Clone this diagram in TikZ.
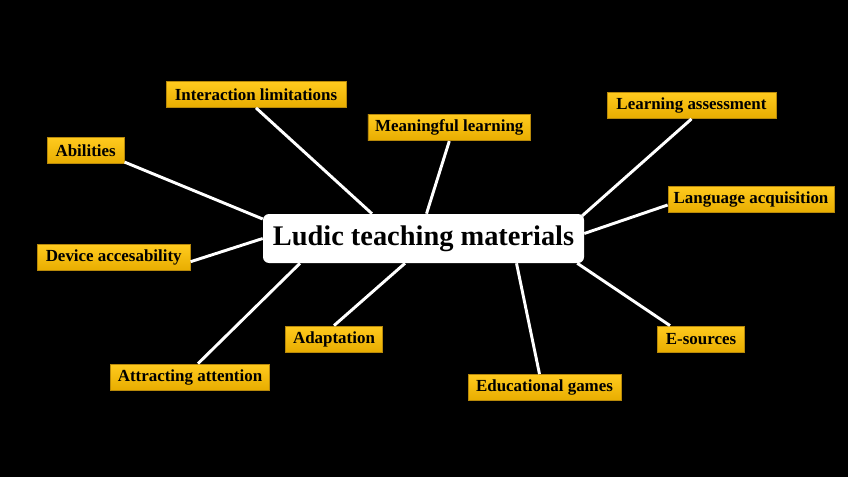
\documentclass[tikz,border=0pt]{standalone}
\usepackage{fontspec}
\setmainfont{Liberation Serif}
\usepackage{xcolor}
\usepackage{tikz}
\usetikzlibrary{calc,positioning}
\definecolor{topyellow}{HTML}{FFCA1E}
\definecolor{lowyellow}{HTML}{E8AD00}
\definecolor{edgeyellow}{HTML}{B8890A}

\begin{document}
\begin{tikzpicture}[x=0.75pt,y=-0.75pt,
    topic/.style={rectangle,top color=topyellow,bottom color=lowyellow,
      draw=edgeyellow,line width=0.6pt,inner sep=0pt,minimum height=19.5pt,
      font=\fontsize{12.7}{14}\selectfont\bfseries,text=black},
    hub/.style={rectangle,rounded corners=4.5pt,fill=white,inner sep=0pt,
      minimum width=240.75pt,minimum height=36.75pt,
      font=\fontsize{21.3}{26}\selectfont\bfseries,text=black},
    link/.style={white,line width=2.2pt}]
        \fill[black] (0,0) rectangle (848,477);
        \useasboundingbox (0,0) rectangle (848,477);
        \node[hub] (ludic) at (423.5,238.5) {Ludic teaching materials};
        \node[topic,minimum width=135pt] (inter) at (256,94.5) {Interaction limitations};
        \node[topic,minimum width=122pt] (mean) at (449.3,127.7) {Meaningful learning};
        \node[topic,minimum width=126.75pt] (assess) at (691.5,105.5) {Learning assessment};
        \node[topic,minimum width=124.5pt] (lang) at (751,199.5) {Language acquisition};
        \node[topic,minimum width=57.75pt] (abil) at (85.7,150.7) {Abilities};
        \node[topic,minimum width=114.75pt] (device) at (113.7,257.7) {Device accesability};
        \node[topic,minimum width=72.75pt] (adapt) at (334,339) {Adaptation};
        \node[topic,minimum width=119.25pt] (attract) at (190,377) {Attracting attention};
        \node[topic,minimum width=114.75pt] (games) at (544.5,387.5) {Educational games};
        \node[topic,minimum width=65.25pt] (esrc) at (701,339) {E-sources};
        % connectors to the hub
        \draw[link] ($(abil.south east)+(0,-2)$) -- ($(ludic.west)+(0,-19.5)$);
        \draw[link] ($(device.east)+(0,4)$) -- (ludic.west);
        \draw[link] (inter.south) -- ($(ludic.north)+(-51.5,0)$);
        \draw[link] (mean.south) -- ($(ludic.north)+(3,0)$);
        \draw[link] (assess.south) -- ($(ludic.north east)+(-2,2)$);
        \draw[link] ($(lang.west)+(0,5.5)$) -- ($(ludic.east)+(0,-5)$);
        \draw[link] ($(esrc.north)+(-31,0)$) -- ($(ludic.south east)+(-7,0)$);
        \draw[link] ($(games.north)+(-5,0)$) -- ($(ludic.south)+(93,0)$);
        \draw[link] (adapt.north) -- ($(ludic.south)+(-18.5,0)$);
        \draw[link] ($(attract.north)+(8,0)$) -- ($(ludic.south)+(-123.5,0)$);
      \end{tikzpicture}
\end{document}
